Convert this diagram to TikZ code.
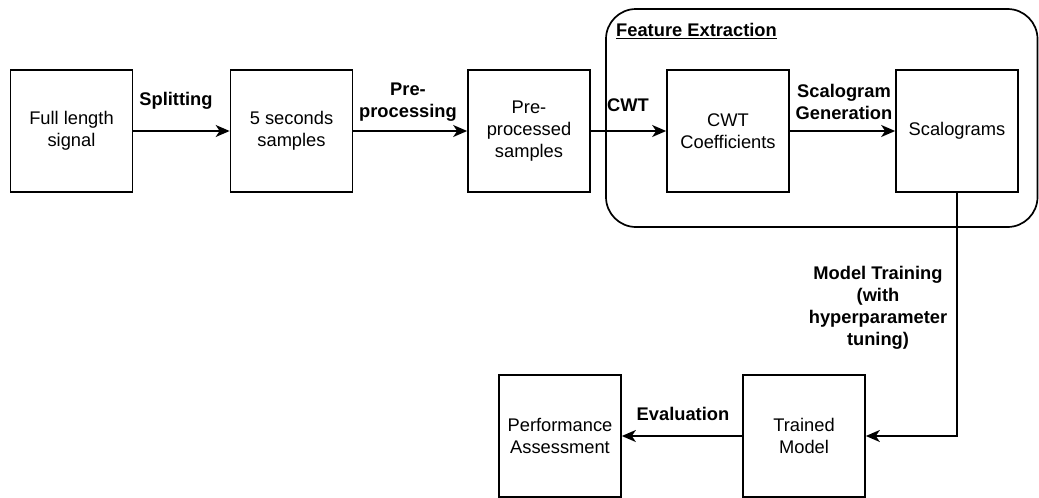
\documentclass[tikz,border=0pt]{standalone}
\usepackage{fontspec}
\setmainfont{Liberation Sans}
\usetikzlibrary{arrows.meta}
\begin{document}
\begin{tikzpicture}[x=1pt,y=-1pt,
  every node/.style={font=\fontsize{18.3}{22}\selectfont},
  stepbox/.style={draw,line width=1.7pt,minimum width=122pt,minimum height=122pt,inner sep=0pt,align=center},
  lbl/.style={font=\fontsize{18.3}{22}\selectfont\bfseries,align=center,inner sep=0pt},
  conn/.style={line width=1.7pt,-{Stealth[length=14pt,width=12pt,inset=4pt]}}
]
\useasboundingbox (0,0) rectangle (1039,498);
\draw[line width=1.7pt,rounded corners=30pt] (606,9) rectangle (1037.5,227);
\node[lbl,anchor=west] (fe) at (616,31) {\underline{Feature Extraction}};

\node[stepbox] (b1) at (71.5,131) {Full length\\signal};
\node[stepbox] (b2) at (291.5,131) {5 seconds\\samples};
\node[stepbox] (b3) at (529,131) {Pre-\\processed\\samples};
\node[stepbox] (b4) at (728,131) {CWT\\Coefficients};
\node[stepbox] (b5) at (957,131) {Scalograms};
\node[stepbox] (b6) at (804,436) {Trained\\Model};
\node[stepbox] (b7) at (560,436) {Performance\\Assessment};

\draw[conn] (b1.east) -- (b2.west);
\draw[conn] (b2.east) -- (b3.west);
\draw[conn] (b3.east) -- (b4.west);
\draw[conn] (b4.east) -- (b5.west);
\draw[conn] (b5.south) |- (b6.east);
\draw[conn] (b6.west) -- (b7.east);

\node[lbl] (l1) at (176,101) {Splitting};
\node[lbl] (l2) at (408,102) {Pre-\\processing};
\node[lbl,anchor=west] (l3) at (607,105) {CWT};
\node[lbl] (l4) at (844,102) {Scalogram\\Generation};
\node[lbl] (l5) at (878,308) {Model Training\\(with\\hyperparameter\\tuning)};
\node[lbl] (l6) at (683,414) {Evaluation};
\end{tikzpicture}
\end{document}
